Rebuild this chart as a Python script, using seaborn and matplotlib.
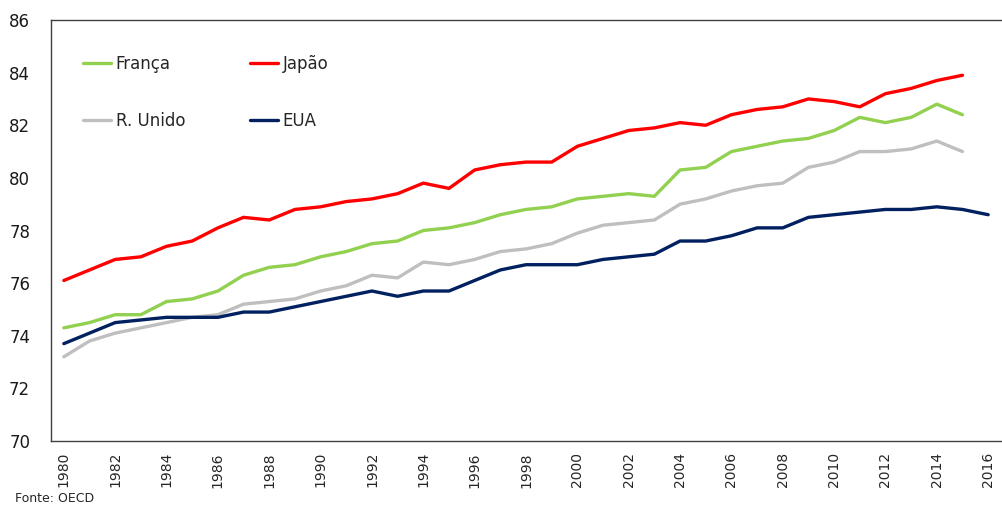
import numpy as np
import pandas as pd
import matplotlib
matplotlib.use("Agg")
import matplotlib.pyplot as plt
from matplotlib.ticker import FixedLocator
import seaborn as sns

# Life expectancy data
years = list(range(1980, 2017))
franca = [74.3, 74.5, 74.8, 74.8, 75.3, 75.4, 75.7, 76.3, 76.6, 76.7,
          77.0, 77.2, 77.5, 77.6, 78.0, 78.1, 78.3, 78.6, 78.8, 78.9,
          79.2, 79.3, 79.4, 79.3, 80.3, 80.4, 81.0, 81.2, 81.4, 81.5,
          81.8, 82.3, 82.1, 82.3, 82.8, 82.4, np.nan]
japao = [76.1, 76.5, 76.9, 77.0, 77.4, 77.6, 78.1, 78.5, 78.4, 78.8,
         78.9, 79.1, 79.2, 79.4, 79.8, 79.6, 80.3, 80.5, 80.6, 80.6,
         81.2, 81.5, 81.8, 81.9, 82.1, 82.0, 82.4, 82.6, 82.7, 83.0,
         82.9, 82.7, 83.2, 83.4, 83.7, 83.9, np.nan]
r_unido = [73.2, 73.8, 74.1, 74.3, 74.5, 74.7, 74.8, 75.2, 75.3, 75.4,
           75.7, 75.9, 76.3, 76.2, 76.8, 76.7, 76.9, 77.2, 77.3, 77.5,
           77.9, 78.2, 78.3, 78.4, 79.0, 79.2, 79.5, 79.7, 79.8, 80.4,
           80.6, 81.0, 81.0, 81.1, 81.4, 81.0, np.nan]
eua = [73.7, 74.1, 74.5, 74.6, 74.7, 74.7, 74.7, 74.9, 74.9, 75.1,
       75.3, 75.5, 75.7, 75.5, 75.7, 75.7, 76.1, 76.5, 76.7, 76.7,
       76.7, 76.9, 77.0, 77.1, 77.6, 77.6, 77.8, 78.1, 78.1, 78.5,
       78.6, 78.7, 78.8, 78.8, 78.9, 78.8, 78.6]

series_names = ["França", "Japão", "R. Unido", "EUA"]
colors = ["#92D050", "#FF0000", "#BFBFBF", "#002060"]

df = pd.DataFrame({"ano": years, "França": franca, "Japão": japao,
                   "R. Unido": r_unido, "EUA": eua})
long = df.melt(id_vars="ano", var_name="pais", value_name="valor").dropna()

sns.set_style("white")
plt.rcParams['font.family'] = ['DejaVu Sans']

fig = plt.figure(figsize=(10.02, 5.07), dpi=100)
ax = fig.add_axes([51 / 1002, 1 - 441 / 507, 1 - 51 / 1002 - 0.001, (441 - 20) / 507])

sns.lineplot(data=long, x="ano", y="valor", hue="pais", hue_order=series_names,
             palette=colors, linewidth=2.4, ax=ax, legend=True)

ax.set_xlim(1979.5, 2016.5)
ax.set_ylim(70, 86)
ax.set_yticks(range(70, 87, 2))
ax.tick_params(axis="y", length=0, pad=15, labelsize=12, labelcolor="#1a1a1a")

ax.set_xticks(years[::2])
ax.set_xticklabels([str(y) for y in years[::2]], rotation=90,
                   family=['Liberation Sans Narrow', 'DejaVu Sans Condensed', 'DejaVu Sans'],
                   fontsize=10)
ax.xaxis.set_minor_locator(FixedLocator(np.arange(1979.5, 2017, 1.0)))
ax.tick_params(axis="x", which="major", length=0, pad=8)
ax.tick_params(axis="x", which="minor", length=5, width=1, color="#404040", direction="out")
ax.set_xlabel("")
ax.set_ylabel("")

for side in ["left", "top", "bottom"]:
    ax.spines[side].set_color("#404040")
    ax.spines[side].set_linewidth(1.0)
ax.spines["right"].set_visible(False)

# legend: two columns, França/Japão on the first row
handles, labels = ax.get_legend_handles_labels()
order = [0, 2, 1, 3]
ax.legend([handles[i] for i in order], [labels[i] for i in order], ncol=2,
          loc="upper left", bbox_to_anchor=(0.018, 0.952),
          frameon=False, fontsize=12, handlelength=1.7, handletextpad=0.25,
          labelspacing=2.3, columnspacing=3.9)

fig.text(0.015, 0.003, "Fonte: OECD", fontsize=9, va="bottom", ha="left")

fig.savefig("out.png", dpi=100)
